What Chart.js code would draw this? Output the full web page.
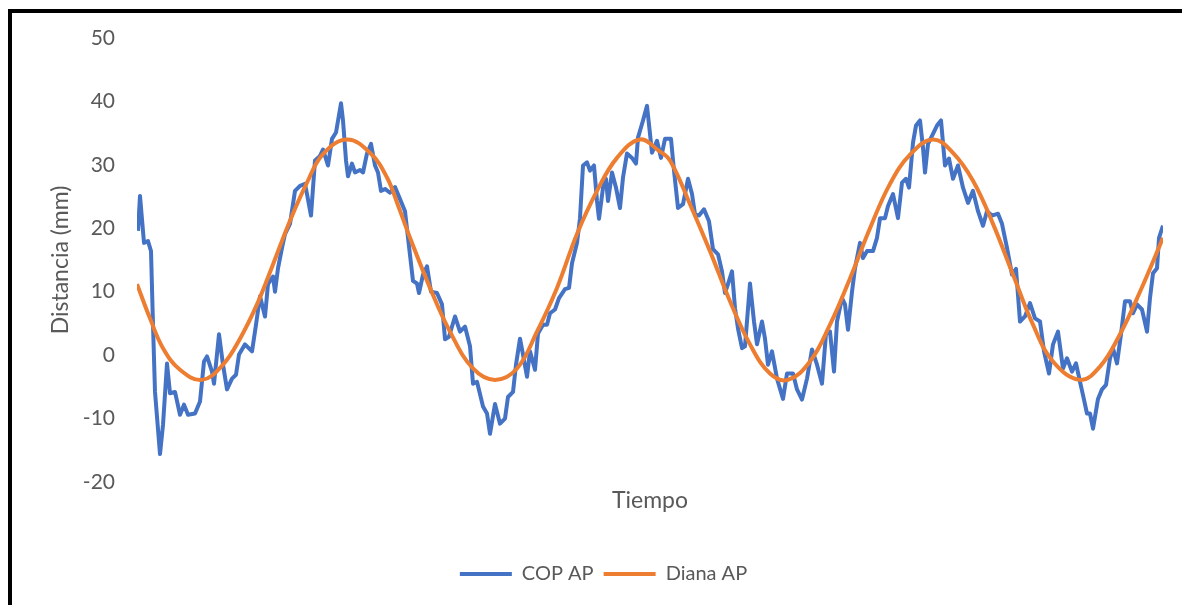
<!DOCTYPE html>
<html>
<head>
<meta charset="utf-8">
<title>COP AP vs Diana AP</title>
<script src="https://cdn.jsdelivr.net/npm/chart.js@4"></script>
<style>
  html, body { margin: 0; padding: 0; background: #fff; }
  #wrap { position: relative; width: 1182px; height: 605px; overflow: hidden; }
  #marco {
    position: absolute; left: 8px; top: 9px; width: 1182px; height: 610px;
    border-left: 4px solid #000; border-top: 4px solid #000;
  }
  #grafico { position: absolute; left: 0; top: 0; }
</style>
</head>
<body>
<div id="wrap">
  <canvas id="grafico" width="1182" height="605"></canvas>
  <div id="marco"></div>
</div>
<script>
'use strict';

// Muestras (tiempo, sin unidades en el eje) y distancia AP en mm
var muestrasCOP = [
  1, 3, 7, 11, 14, 16, 18, 23, 26, 30,
  33, 38, 43, 47, 51, 58, 63, 67, 70, 75,
  77, 82, 86, 90, 95, 99, 102, 108, 115, 119,
  123, 128, 131, 136, 138, 141, 145, 148, 153, 158,
  163, 168, 170, 174, 178, 183, 186, 191, 195, 199,
  204, 206, 209, 211, 215, 218, 223, 226, 230, 234,
  238, 241, 244, 248, 253, 258, 263, 268, 271, 276,
  280, 282, 286, 290, 294, 300, 305, 308, 312, 318,
  323, 328, 333, 336, 340, 346, 350, 353, 358, 363,
  368, 371, 376, 379, 383, 386, 390, 393, 398, 401,
  406, 410, 413, 418, 422, 428, 432, 435, 440, 443,
  446, 450, 453, 457, 460, 462, 466, 469, 471, 475,
  479, 483, 486, 490, 495, 499, 501, 506, 510, 515,
  520, 524, 528, 534, 537, 541, 546, 551, 555, 558,
  562, 567, 572, 576, 581, 585, 588, 591, 595, 598,
  601, 605, 608, 613, 617, 620, 625, 628, 631, 635,
  640, 646, 650, 656, 660, 665, 670, 675, 680, 685,
  689, 693, 697, 700, 705, 708, 711, 715, 718, 723,
  726, 730, 736, 740, 743, 748, 751, 756, 761, 765,
  769, 772, 776, 779, 783, 786, 788, 791, 796, 800,
  804, 808, 812, 816, 821, 826, 831, 836, 841, 846,
  850, 855, 861, 865, 870, 875, 879, 883, 888, 893,
  898, 903, 907, 912, 916, 921, 926, 930, 935, 939,
  943, 946, 950, 953, 956, 961, 965, 969, 973, 976,
  980, 984, 988, 993, 996, 1000, 1005, 1010, 1013, 1016,
  1020, 1022, 1026
];

var copAP = [
  19.6, 25.1, 17.7, 18, 16.4, 4.8, -5.8, -15.6, -11, -1.3,
  -6, -5.8, -9.4, -7.8, -9.4, -9.2, -7.3, -1, -0.2, -2.6,
  -4.5, 3.3, -1.5, -5.4, -3.7, -3.1, 0.1, 1.7, 0.6, 4.8,
  9.3, 6.1, 11.2, 12.4, 10, 13.7, 16.9, 19.1, 20.7, 25.9,
  26.7, 27, 25.4, 22, 30.7, 31.4, 32.4, 29.9, 34.1, 35.1,
  39.7, 37, 30.7, 28.2, 30.2, 28.8, 29.2, 28.8, 31.8, 33.3,
  29.9, 28.8, 25.9, 26.2, 25.6, 26.5, 24.6, 22.7, 18.5, 11.7,
  11.3, 9.8, 12.7, 14, 10, 9.8, 8, 2.5, 2.9, 6.1,
  3.7, 4.5, 1.4, -4.5, -4.2, -8.1, -9.2, -12.4, -7.7, -10.8,
  -10, -6.6, -5.8, -1.5, 2.6, 0.1, -3.4, 0.6, -2.3, 3.4,
  4.8, 4.8, 6.6, 7.2, 9, 10.4, 10.6, 14.5, 17.7, 21.6,
  29.9, 30.4, 29.1, 29.9, 24.3, 21.5, 26.4, 27.8, 24.3, 28.8,
  26.4, 23.2, 28, 31.8, 31.1, 30.2, 34.3, 37, 39.3, 31.9,
  33.8, 31.1, 34.1, 34.1, 29.1, 23.2, 23.8, 27.8, 25.4, 22.2,
  22, 23, 21.1, 16.7, 15.9, 13.2, 9.8, 11.2, 13.2, 7.4,
  4.2, 1.1, 1.4, 11.3, 5.3, 1.7, 5.3, 2.6, -1.5, 0.6,
  -3.7, -6.9, -2.9, -2.9, -5.4, -7, -3.7, 0.9, -1.5, -4.5,
  3.4, 3.7, -2.6, 5.3, 9, 8, 4, 10, 13.7, 17.7,
  15.3, 16.4, 16.4, 18.5, 21.6, 21.6, 23.5, 25.4, 21.6, 27.2,
  27.8, 26.4, 33.5, 36.2, 37, 32.7, 28.8, 33.3, 34.9, 36.2,
  37, 29.9, 31, 27.8, 29.9, 26.4, 24, 25.9, 22.7, 20.4,
  22.7, 22, 22.3, 20.7, 16.9, 12.7, 13.6, 5.3, 6.1, 8.2,
  5.8, 5.3, 0.6, -2.9, 1.7, 3.7, -2.1, -0.5, -2.6, -1.3,
  -4.2, -6.3, -9.2, -9.2, -11.6, -6.9, -5.4, -4.7, -0.5, 1.1,
  -1.3, 3.3, 8.5, 8.5, 6.6, 8, 7.2, 3.7, 9, 12.9,
  13.7, 18.5, 20.4
];

var muestrasDiana = [
  0, 13, 26, 43, 65, 86, 103, 120, 136, 153,
  170, 186, 210, 233, 250, 262, 273, 293, 313, 336,
  358, 380, 400, 420, 440, 460, 480, 503, 522, 533,
  553, 573, 593, 613, 633, 651, 673, 693, 713, 733,
  753, 773, 796, 816, 836, 856, 876, 896, 916, 943,
  963, 983, 1003, 1026
];

var dianaAP = [
  11.2, 5.8, 1.1, -2.3, -3.9, -1.5, 2.6, 8, 14.3, 21.2,
  27.2, 31.7, 34, 31.9, 28, 23.2, 18.5, 10.6, 3.7, -2.1,
  -3.9, -2.1, 3.7, 10.6, 19.1, 25.9, 31.1, 34, 32.2, 30.7,
  23.8, 16.4, 8.5, 1.7, -2.9, -3.9, -1, 4.8, 12.1, 20,
  27, 31.6, 34, 31.9, 27.5, 20.7, 12.7, 4.8, -1, -3.9,
  -1.8, 3.3, 10, 18.5
];

var nombresSeries = ['COP AP', 'Diana AP'];
var ejeY = { min: -20, max: 50, paso: 10 };

window.addEventListener('load', function() {
  var textColor = '#595959';
  var fontFamily = 'Lato, "Liberation Sans", sans-serif';

  var toPoints = function(xs, ys) {
    return xs.map(function(x, i) {
      return { x: x, y: ys[i] };
    });
  };

  var ctx = document.getElementById('grafico').getContext('2d');

  new Chart(ctx, {
    type: 'line',
    data: {
      datasets: [
        {
          label: nombresSeries[0],
          data: toPoints(muestrasCOP, copAP),
          borderColor: '#4472C4',
          backgroundColor: '#4472C4',
          borderWidth: 4,
          pointRadius: 0,
          tension: 0,
          borderJoinStyle: 'round',
          order: 1
        },
        {
          label: nombresSeries[1],
          data: toPoints(muestrasDiana, dianaAP),
          borderColor: '#ED7D31',
          backgroundColor: '#ED7D31',
          borderWidth: 4,
          pointRadius: 0,
          tension: 0.4,
          order: 0
        }
      ]
    },
    options: {
      responsive: false,
      animation: false,
      devicePixelRatio: 1,
      layout: {
        padding: { left: 44, top: 38, right: 19, bottom: 11 }
      },
      plugins: {
        tooltip: { enabled: false },
        legend: {
          position: 'bottom',
          labels: {
            usePointStyle: true,
            pointStyle: 'line',
            pointStyleWidth: 52,
            padding: 10,
            color: textColor,
            font: { family: fontFamily, size: 20 },
            sort: function(a, b) {
              return a.datasetIndex - b.datasetIndex;
            }
          }
        }
      },
      scales: {
        x: {
          type: 'linear',
          min: 0,
          max: 1026,
          grid: { display: false, drawTicks: false },
          border: { display: false },
          ticks: { display: false },
          title: {
            display: true,
            text: 'Tiempo',
            color: textColor,
            font: { family: fontFamily, size: 23 },
            padding: { top: 0, bottom: 40 }
          },
          afterFit: function(scale) {
            scale.height = 72;
          }
        },
        y: {
          min: ejeY.min,
          max: ejeY.max,
          grid: { display: false, drawTicks: false },
          border: { display: false },
          ticks: {
            stepSize: ejeY.paso,
            padding: 22,
            color: textColor,
            font: { family: fontFamily, size: 21 }
          },
          title: {
            display: true,
            text: 'Distancia (mm)',
            color: textColor,
            font: { family: fontFamily, size: 23 },
            padding: { top: 3, bottom: 0 }
          },
          afterFit: function(scale) {
            scale.width = 93;
          }
        }
      }
    }
  });
});
</script>
</body>
</html>
